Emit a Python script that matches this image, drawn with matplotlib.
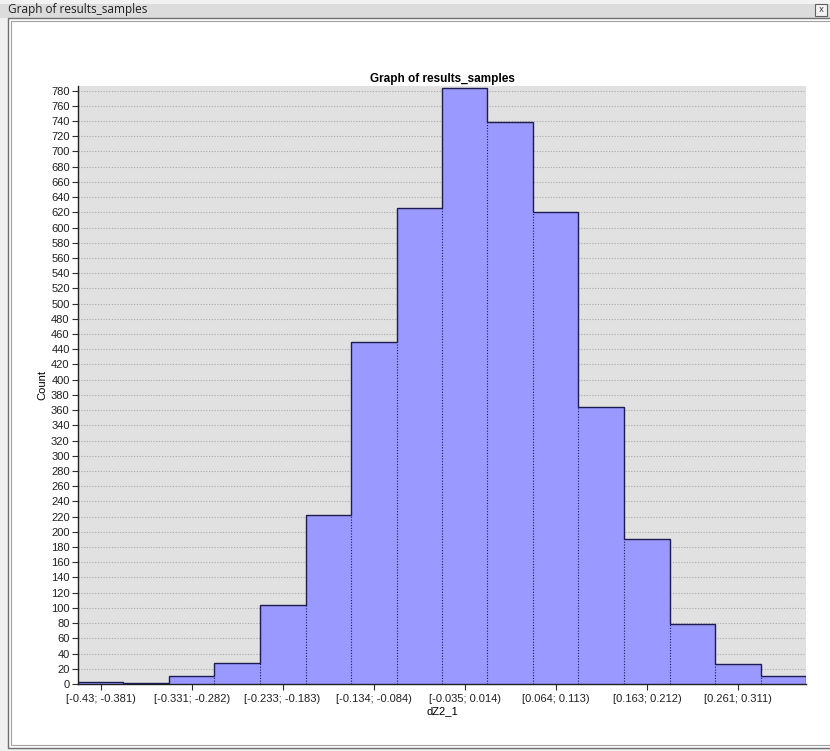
import matplotlib
matplotlib.use("Agg")
import matplotlib.pyplot as plt
from matplotlib.patches import Rectangle
import numpy as np

# histogram of dZ2_1
edges = [-0.43, -0.381, -0.331, -0.282, -0.233, -0.183, -0.134, -0.084,
         -0.035, 0.014, 0.064, 0.113, 0.163, 0.212, 0.261, 0.311, 0.36]
counts = [3, 1, 10, 27, 104, 222, 449, 625, 783, 739, 620, 364, 190, 79, 26, 10]
tick_labels = ['[-0.43; -0.381)', '[-0.331; -0.282)', '[-0.233; -0.183)',
               '[-0.134; -0.084)', '[-0.035; 0.014)', '[0.064; 0.113)',
               '[0.163; 0.212)', '[0.261; 0.311)']

W, H = 830, 751
fig = plt.figure(figsize=(W / 100, H / 100), dpi=100)
fig.patch.set_facecolor('#f0f0f0')
font = ['Liberation Sans', 'DejaVu Sans']

def px(x, y, w, h):
    return (x / W, 1 - (y + h) / H, w / W, h / H)

# window title bar + panel, drawn in a background axes in pixel coords
bg = fig.add_axes((0, 0, 1, 1), zorder=-5)
bg.axis('off')
bg.add_patch(Rectangle((0, 0), W, 18, facecolor='#dcdcdc', lw=0))
bg.add_patch(Rectangle((0, 0), W, 4, facecolor='#f2f2f2', lw=0))
bg.add_patch(Rectangle((815, 4), 12, 12, facecolor='#f4f4f4', edgecolor='#606060', lw=0.8))
bg.text(821, 10, 'x', fontsize=6, ha='center', va='center', color='#404040')
bg.text(8, 10, 'Graph of results_samples', fontsize=8.5,
        family=['Open Sans', 'DejaVu Sans'], va='center', color='#202020')
bg.add_patch(Rectangle((8, 18), 840, 730, facecolor='white', edgecolor='#707070', lw=1))
bg.add_patch(Rectangle((11, 21), 840, 724, facecolor='white', edgecolor='#a0a0a0', lw=0.8))
bg.set_xlim(0, W)
bg.set_ylim(H, 0)

ax = fig.add_axes(px(78, 86, 728, 598))
ax.set_facecolor('#e1e1e1')
ax.set_xlim(edges[0], edges[-1])
ax.set_ylim(0, 786)

ax.set_yticks(range(0, 781, 20))
ax.yaxis.grid(True, linestyle=(0, (1, 1.5)), color='#a8a8a8', lw=0.8)
ax.set_axisbelow(True)

e = np.array(edges)
c = np.array(counts)
ax.bar(e[:-1], c, width=np.diff(e), align='edge', color='#9999ff', lw=0, zorder=2)
ax.stairs(c, e, color='#1c1c50', lw=1.0, zorder=3)
ax.vlines(e[1:-1], 0, np.minimum(c[:-1], c[1:]), colors='#1c1c50',
          linestyles=(0, (1, 1.5)), lw=0.8, zorder=3)

centers = (e[:-1] + e[1:]) / 2
ax.set_xticks(centers[::2])
ax.set_xticklabels(tick_labels)
ax.tick_params(axis='both', direction='out', length=4, width=0.8, labelsize=8,
               color='#303030', labelcolor='#202020')
ax.tick_params(axis='y', pad=2)
for t in ax.get_xticklabels() + ax.get_yticklabels():
    t.set_family(font)

for s in ['top', 'right']:
    ax.spines[s].set_visible(False)
for s in ['left', 'bottom']:
    ax.spines[s].set_color('#202020')
    ax.spines[s].set_linewidth(1)

ax.set_title('Graph of results_samples', fontsize=8.5, fontweight='bold',
             family=font, pad=3)
ax.set_xlabel('dZ2_1', fontsize=8, family=font, labelpad=1)
ax.set_ylabel('Count', fontsize=8, family=font, labelpad=3)

fig.savefig('out.png', dpi=100, facecolor=fig.get_facecolor())
